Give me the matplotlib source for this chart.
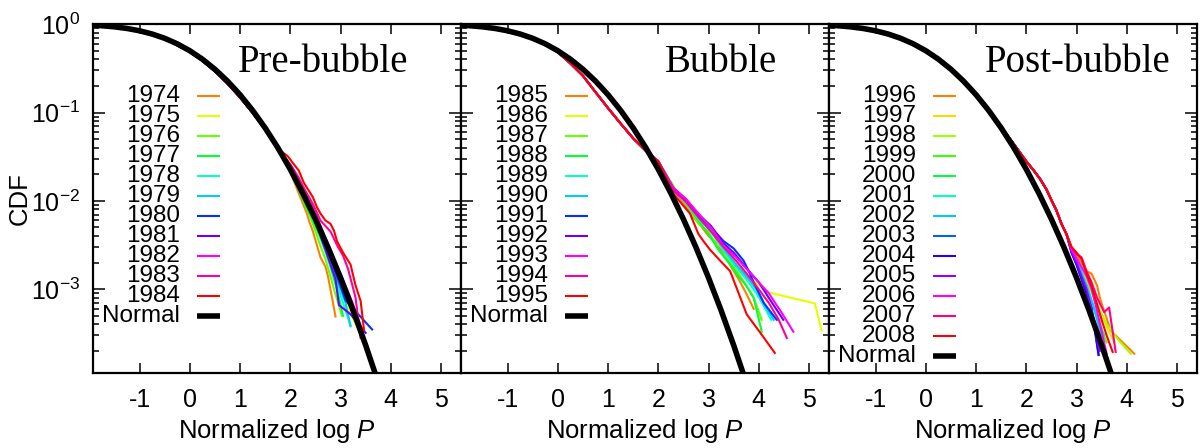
import matplotlib.pyplot as plt

plt.rcParams['font.family'] = ['Liberation Sans', 'DejaVu Sans']
plt.rcParams['mathtext.fontset'] = 'custom'
plt.rcParams['mathtext.rm'] = 'Liberation Sans'
plt.rcParams['mathtext.it'] = 'Liberation Sans:italic'
plt.rcParams['axes.unicode_minus'] = False

# standard normal survival curve
normal_x = [-2.0, -1.75, -1.5, -1.25, -1.0, -0.75, -0.5, -0.25, 0.0, 0.25, 0.5, 0.75, 1.0,
            1.25, 1.5, 1.75, 2.0, 2.25, 2.5, 2.75, 3.0, 3.25, 3.5, 3.75]
normal_y = [0.9772, 0.9599, 0.9332, 0.8944, 0.8413, 0.7734, 0.6915, 0.5987, 0.5, 0.4013, 0.3085,
            0.2266, 0.1587, 0.1056, 0.0668, 0.0401, 0.02275, 0.01222, 0.00621, 0.00298, 0.00135,
            0.000577, 0.000233, 0.0000884]

titles = ['Pre-bubble', 'Bubble', 'Post-bubble']

# ---- Pre-bubble 1974-1984 ----
pre_years = ['1974', '1975', '1976', '1977', '1978', '1979', '1980', '1981', '1982', '1983', '1984']
pre_colors = ['#ff8000', '#e6ff00', '#66ff00', '#00ff33', '#00ffcc', '#00ccff', '#0033ff',
              '#6600ff', '#ff00ff', '#ff0099', '#ff0000']
pre_body_x = [-2.0, -1.5, -1.0, -0.5, 0.0, 0.25, 0.5, 0.75, 1.0, 1.25, 1.5, 1.75]
pre_body_y = [1.0, 0.935, 0.84, 0.685, 0.485, 0.385, 0.292, 0.212, 0.148, 0.099, 0.064, 0.039]
pre_tail_x = [
    [2.0, 2.2, 2.33, 2.38, 2.45, 2.52, 2.6, 2.7, 2.75, 2.83, 2.9],
    [2.0, 2.3, 2.45, 2.6, 2.75, 2.9, 3.1, 3.3],
    [2.0, 2.2, 2.3, 2.4, 2.5, 2.6, 2.7, 2.87, 3.03],
    [2.0, 2.3, 2.45, 2.6, 2.7, 2.8, 2.95, 3.05],
    [2.0, 2.25, 2.4, 2.55, 2.7, 2.9, 3.05, 3.2],
    [2.0, 2.25, 2.4, 2.55, 2.7, 2.95, 3.1, 3.2],
    [2.0, 2.2, 2.4, 2.55, 2.7, 2.95, 3.1, 3.63],
    [2.0, 2.2, 2.4, 2.55, 2.7, 2.9, 2.97, 3.2, 3.5],
    [2.0, 2.2, 2.4, 2.55, 2.7, 2.85, 3.0, 3.2, 3.45],
    [2.0, 2.15, 2.3, 2.45, 2.6, 2.7, 2.8, 2.95, 3.05, 3.15, 3.3, 3.4],
    [1.95, 2.07, 2.17, 2.27, 2.37, 2.45, 2.53, 2.6, 2.7, 2.8, 2.87, 2.93, 3.05, 3.13, 3.2, 3.3,
     3.4, 3.47],
]
pre_tail_y = [
    [0.021, 0.011, 0.0072, 0.0058, 0.0045, 0.0033, 0.0023, 0.0018, 0.0014, 0.00081, 0.00049],
    [0.022, 0.0095, 0.0062, 0.004, 0.0025, 0.0014, 0.00075, 0.0004],
    [0.021, 0.0128, 0.0088, 0.0066, 0.0045, 0.0031, 0.0022, 0.001, 0.0005],
    [0.022, 0.009, 0.006, 0.0038, 0.0027, 0.0018, 0.0009, 0.0005],
    [0.022, 0.0118, 0.0078, 0.0048, 0.0027, 0.0013, 0.0007, 0.00039],
    [0.023, 0.012, 0.008, 0.0052, 0.003, 0.0012, 0.0007, 0.00038],
    [0.023, 0.0135, 0.0085, 0.0052, 0.0032, 0.0013, 0.00075, 0.00035],
    [0.022, 0.0125, 0.0082, 0.0048, 0.0028, 0.0013, 0.00066, 0.00052, 0.00032],
    [0.024, 0.0145, 0.0095, 0.0062, 0.0038, 0.0024, 0.0015, 0.0008, 0.00033],
    [0.026, 0.019, 0.013, 0.0092, 0.006, 0.0052, 0.0045, 0.003, 0.0024, 0.0017, 0.0008, 0.00028],
    [0.032, 0.026, 0.022, 0.016, 0.013, 0.011, 0.0085, 0.0072, 0.006, 0.0055, 0.0046, 0.0035,
     0.0026, 0.0022, 0.0019, 0.0011, 0.00074, 0.00034],
]

# ---- Bubble 1985-1995 ----
bub_years = ['1985', '1986', '1987', '1988', '1989', '1990', '1991', '1992', '1993', '1994', '1995']
bub_colors = pre_colors
bub_body_x = [-2.0, -1.5, -1.0, -0.5, -0.25, 0.0, 0.25, 0.5, 0.75, 1.0, 1.25, 1.5, 1.75, 2.0]
bub_body_y = [1.0, 0.95, 0.86, 0.7, 0.6, 0.48, 0.36, 0.26, 0.17, 0.112, 0.075, 0.051, 0.037, 0.028]
bub_tail_x = [
    [2.3, 2.5, 2.7, 2.85, 3.0, 3.15, 3.3, 3.45, 3.6, 3.75, 3.9],
    [2.3, 2.5, 2.7, 2.9, 3.03, 3.1, 3.2, 3.4, 3.6, 3.85, 4.16, 5.12, 5.25],
    [2.4, 2.6, 2.8, 3.0, 3.2, 3.4, 3.6, 3.75, 3.9, 4.06],
    [2.3, 2.55, 2.8, 3.0, 3.2, 3.4, 3.6, 3.75, 3.9, 4.06],
    [2.3, 2.55, 2.8, 3.05, 3.3, 3.55, 3.8, 3.95, 4.1, 4.25],
    [2.3, 2.55, 2.8, 3.05, 3.3, 3.55, 3.8, 3.95, 4.1, 4.3],
    [2.3, 2.55, 2.8, 3.05, 3.3, 3.5, 3.7, 3.8, 3.9, 4.1, 4.36],
    [2.3, 2.55, 2.8, 3.05, 3.3, 3.5, 3.7, 3.85, 4.0, 4.2, 4.49],
    [2.3, 2.55, 2.8, 3.05, 3.3, 3.55, 3.8, 4.0, 4.2, 4.45, 4.69],
    [2.3, 2.55, 2.8, 3.05, 3.3, 3.55, 3.8, 4.0, 4.2, 4.4, 4.56],
    [2.3, 2.45, 2.63, 2.8, 2.9, 3.03, 3.2, 3.43, 3.6, 3.76, 4.0, 4.32],
]
bub_tail_y = [
    [0.013, 0.0095, 0.0065, 0.0052, 0.004, 0.0034, 0.0025, 0.0018, 0.0013, 0.0009, 0.0006],
    [0.014, 0.0105, 0.0075, 0.0062, 0.0055, 0.0042, 0.0032, 0.0025, 0.0018, 0.0013, 0.00093,
     0.00069, 0.00034],
    [0.012, 0.0085, 0.0055, 0.0045, 0.0028, 0.0021, 0.0015, 0.0011, 0.0008, 0.00045],
    [0.013, 0.0095, 0.006, 0.0042, 0.0028, 0.002, 0.0014, 0.0011, 0.0008, 0.00033],
    [0.013, 0.0095, 0.0063, 0.0045, 0.0027, 0.0018, 0.0012, 0.0009, 0.00065, 0.00045],
    [0.0135, 0.0098, 0.0066, 0.0047, 0.0029, 0.0019, 0.0013, 0.001, 0.0007, 0.00045],
    [0.0135, 0.01, 0.0068, 0.005, 0.0035, 0.0029, 0.0021, 0.0016, 0.0012, 0.0007, 0.00045],
    [0.014, 0.0105, 0.007, 0.0052, 0.0033, 0.0026, 0.0019, 0.0015, 0.0012, 0.0008, 0.00045],
    [0.014, 0.0105, 0.0072, 0.005, 0.0031, 0.0023, 0.0016, 0.0012, 0.0009, 0.00055, 0.00033],
    [0.013, 0.0098, 0.0065, 0.0045, 0.003, 0.0021, 0.0014, 0.001, 0.0007, 0.00045, 0.00028],
    [0.012, 0.0095, 0.0072, 0.0042, 0.0035, 0.0028, 0.0022, 0.0016, 0.0009, 0.00052, 0.00034,
     0.00019],
]

# ---- Post-bubble 1996-2008 ----
post_years = ['1996', '1997', '1998', '1999', '2000', '2001', '2002', '2003', '2004', '2005',
              '2006', '2007', '2008']
post_colors = ['#ff8000', '#ffd800', '#a0ff00', '#40ff00', '#00ff40', '#00ffc0', '#00c8ff',
               '#0060ff', '#2000ff', '#9000ff', '#ff00ff', '#ff0080', '#ff0000']
post_body_x = [-2.0, -1.5, -1.0, -0.5, 0.0, 0.5, 1.0, 1.25, 1.5, 1.75, 2.0, 2.15, 2.28, 2.4,
               2.5, 2.6, 2.7, 2.8]
post_body_y = [1.0, 0.935, 0.84, 0.69, 0.5, 0.31, 0.16, 0.107, 0.069, 0.044, 0.028, 0.022,
               0.0175, 0.0135, 0.0102, 0.0078, 0.0055, 0.0042]
post_tail_x = [
    [2.9, 3.05, 3.2, 3.3, 3.41, 3.47, 3.68, 4.15],
    [2.9, 3.05, 3.2, 3.35, 3.5, 3.75],
    [2.9, 3.05, 3.2, 3.4, 3.6, 3.85, 4.08],
    [2.9, 3.05, 3.2, 3.35, 3.5, 3.6],
    [2.9, 3.05, 3.2, 3.35, 3.55],
    [2.9, 3.05, 3.2, 3.35, 3.5],
    [2.9, 3.05, 3.2, 3.35, 3.5],
    [2.9, 3.0, 3.1, 3.2, 3.3, 3.44],
    [2.9, 3.0, 3.1, 3.2, 3.3, 3.44],
    [2.9, 3.0, 3.1, 3.2, 3.3, 3.46],
    [2.9, 3.05, 3.2, 3.3, 3.4, 3.6],
    [2.9, 3.0, 3.1, 3.2, 3.3, 3.41, 3.55, 3.65, 3.78],
    [2.9, 3.0, 3.1, 3.2, 3.3, 3.4, 3.5, 3.6, 3.72],
]
post_tail_y = [
    [0.003, 0.0022, 0.0016, 0.0015, 0.0011, 0.00078, 0.00034, 0.000186],
    [0.0029, 0.0019, 0.0013, 0.0008, 0.0005, 0.00025],
    [0.0029, 0.0019, 0.0012, 0.0007, 0.0004, 0.00026, 0.000186],
    [0.0028, 0.0018, 0.0011, 0.0006, 0.00035, 0.00025],
    [0.0028, 0.0018, 0.0011, 0.0006, 0.0003],
    [0.0028, 0.0018, 0.0011, 0.0006, 0.0003],
    [0.0028, 0.0018, 0.0011, 0.0006, 0.0003],
    [0.0026, 0.0019, 0.0013, 0.0009, 0.0006, 0.00018],
    [0.0026, 0.0019, 0.0013, 0.0009, 0.0006, 0.00018],
    [0.0027, 0.002, 0.0014, 0.001, 0.0006, 0.0002],
    [0.0028, 0.002, 0.0014, 0.001, 0.0006, 0.000186],
    [0.003, 0.0025, 0.0023, 0.0016, 0.0012, 0.0008, 0.00055, 0.00062, 0.000195],
    [0.003, 0.0026, 0.0022, 0.0015, 0.0011, 0.0007, 0.00045, 0.0003, 0.000195],
]

panels = [
    (pre_years, pre_colors, pre_body_x, pre_body_y, pre_tail_x, pre_tail_y),
    (bub_years, bub_colors, bub_body_x, bub_body_y, bub_tail_x, bub_tail_y),
    (post_years, post_colors, post_body_x, post_body_y, post_tail_x, post_tail_y),
]
title_pos = [0.625, 0.706, 0.675]

fig, axes = plt.subplots(1, 3, sharey=True, figsize=(12, 4.48), dpi=100)
fig.subplots_adjust(left=0.0775, right=0.9975, top=0.946, bottom=0.167, wspace=0)

for i, ax in enumerate(axes):
    years, colors, bx, by, tx, ty = panels[i]
    for k in range(len(years)):
        ax.plot(bx + tx[k], by + ty[k], color=colors[k], lw=1.5)
    ax.plot(normal_x, normal_y, color='black', lw=4)

    ax.set_yscale('log')
    ax.set_xlim(-1.93, 5.4)
    ax.set_ylim(1.12e-4, 1.0)
    ax.set_xticks([-1, 0, 1, 2, 3, 4, 5])
    ax.tick_params(axis='x', which='both', direction='in', top=True, length=7, width=1.1,
                   labelsize=18, pad=11)
    ax.tick_params(axis='y', which='major', direction='in', right=True, length=8.5, width=1.1,
                   labelsize=18, pad=9)
    ax.tick_params(axis='y', which='minor', direction='in', right=True, length=4.5, width=1.1)
    for s in ax.spines.values():
        s.set_linewidth(1.6)
    ax.set_xlabel('Normalized log $\\it{P}$', fontsize=18.5, labelpad=3)

    ax.text(title_pos[i], 0.891, titles[i], transform=ax.transAxes, ha='center', va='center',
            fontsize=28, family=['Liberation Serif'])

    # legend: right-aligned labels with short line samples
    labels = years + ['Normal']
    lcolors = colors + ['black']
    for k, lab in enumerate(labels):
        yy = 0.794 - k * 0.0573
        ax.text(0.237, yy, lab, transform=ax.transAxes, ha='right', va='center', fontsize=17.5)
        ax.plot([0.283, 0.346], [yy, yy], transform=ax.transAxes,
                color=lcolors[k], lw=4 if lab == 'Normal' else 1.5, solid_capstyle='butt')

axes[0].set_ylabel('CDF', fontsize=18.5, labelpad=0)

plt.savefig('out.png', dpi=100)
